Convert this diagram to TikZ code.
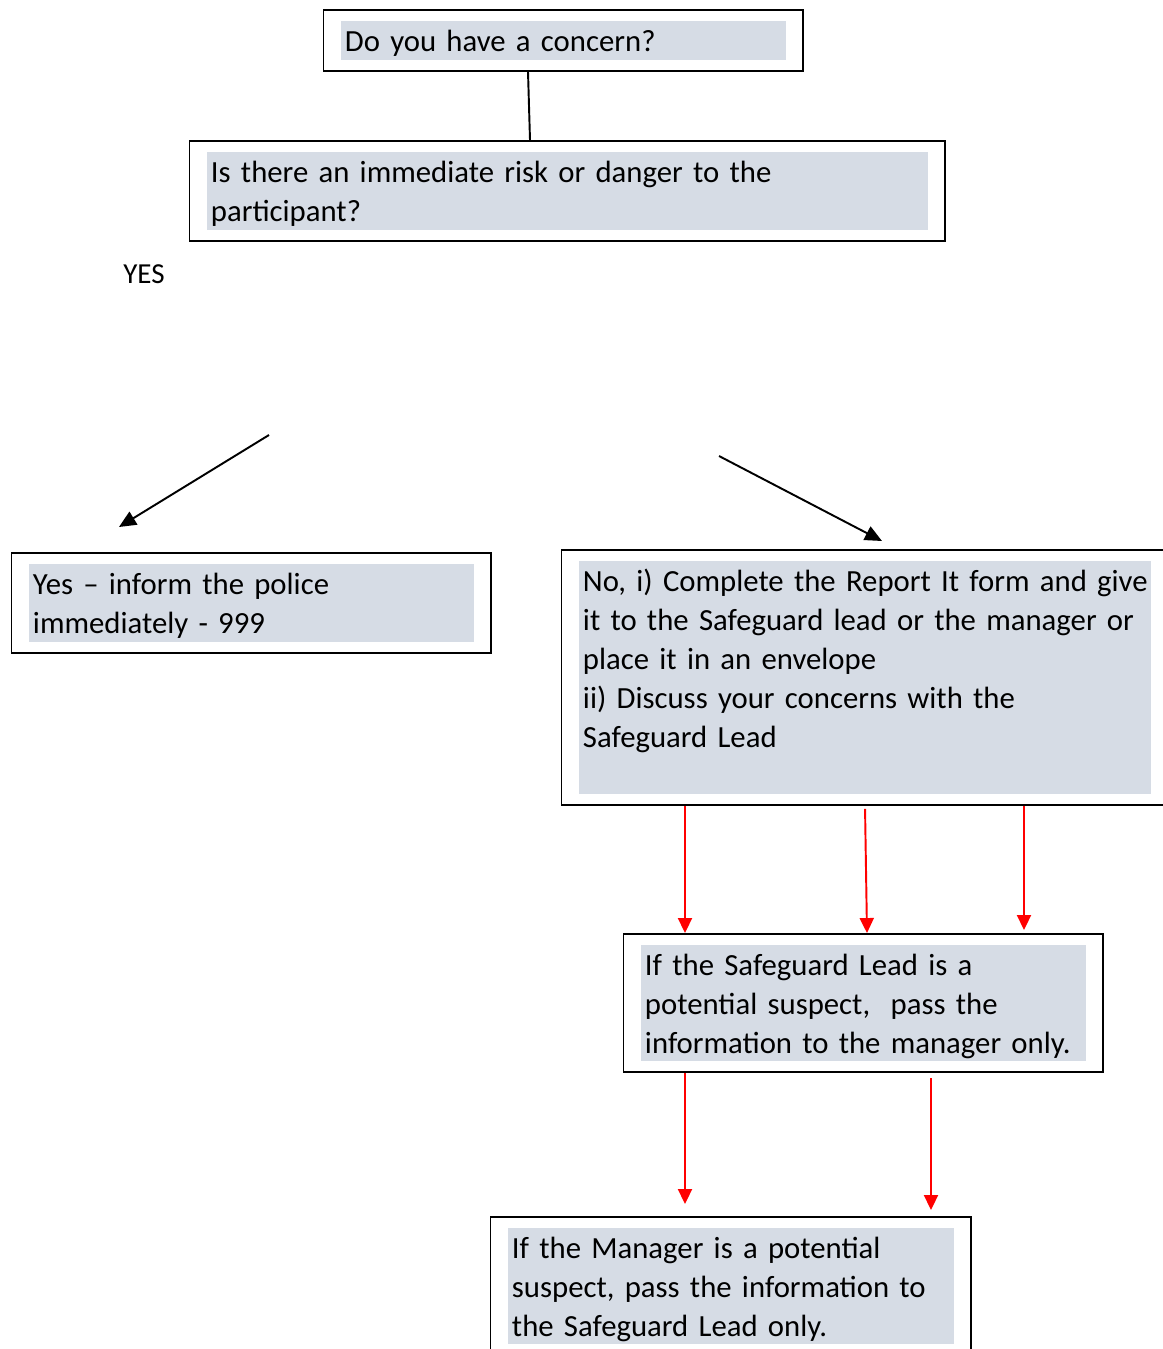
\documentclass[tikz,border=0pt]{standalone}
\usepackage{fontspec}
\setmainfont{Carlito}
\usepackage{tikz}
\usetikzlibrary{arrows.meta,fit}
\definecolor{shade}{RGB}{214,220,229}
\newcommand{\linestrut}{\rule[-4.5pt]{0pt}{22.1pt}}

\begin{document}
\begin{tikzpicture}[x=0.02cm,y=-0.02cm,line width=1.1pt,
  >={Triangle[length=0.34cm,width=0.3cm]},
  text node/.style={fill=shade,anchor=north west,align=left,inner xsep=0.08cm,
    inner ysep=0pt,font=\fontsize{17.5}{22.1}\selectfont},
  frame node/.style={draw,inner xsep=0.33cm,inner ysep=0.2cm},
  red arrow/.style={->,red,>={Triangle[length=0.3cm,width=0.28cm]}}]

  \useasboundingbox (0,0) rectangle (1163,1349);

  \node[text node,text width=8.74cm] (t1) at (340,20)
    {\linestrut Do you have a concern?\linestrut};
  \node[frame node,fit=(t1)] (b1) {};

  \node[text node,text width=14.26cm] (t2) at (206,151)
    {\linestrut Is there an immediate risk or danger to the\\ participant?\linestrut};
  \node[frame node,fit=(t2)] (b2) {};

  \node[font=\fontsize{16.5}{20}\selectfont,inner sep=0pt] (yes) at (144,274) {YES};

  \node[text node,text width=8.74cm] (t3) at (28,563)
    {\linestrut Yes – inform the police\\ immediately - 999\linestrut};
  \node[frame node,fit=(t3)] (b3) {};

  \node[text node,text width=11.28cm] (t4) at (578,560)
    {\linestrut\mbox{No, i) Complete the Report It form and give}\\ it to the Safeguard lead or the manager or\\
     place it in an envelope\\ ii) Discuss your concerns with the\\ Safeguard Lead\\ \linestrut};
  \node[frame node,fit=(t4)] (b4) {};

  \node[text node,text width=8.74cm] (t5) at (640,944)
    {\linestrut If the Safeguard Lead is a\\ potential suspect,\ \ pass the\\ information to the manager only.\linestrut};
  \node[frame node,fit=(t5)] (b5) {};

  \node[text node,text width=8.76cm] (t6) at (507,1227)
    {\linestrut If the Manager is a potential\\ suspect, pass the information to\\ the Safeguard Lead only.\linestrut};
  \node[frame node,fit=(t6)] (b6) {};

  \coordinate (yes from) at (269,435);
  \coordinate (yes to) at (119,527);
  \coordinate (no from) at (719,456);
  \coordinate (no to) at (882,541);

  \draw (b1.south -| 528,0) -- (b2.north -| 530,0);
  \draw[->] (yes from) -- (yes to);
  \draw[->] (no from) -- (no to);

  \draw[red arrow] (b4.south -| 685,0) -- (b5.north -| 685,0);
  \draw[red arrow,shorten <=0.06cm] (b4.south -| 865,0) -- (b5.north -| 867,0);
  \draw[red arrow,shorten >=0.06cm] (b4.south -| 1024,0) -- (b5.north -| 1024,0);
  \draw[red arrow,shorten >=0.24cm] (b5.south -| 685,0) -- (b6.north -| 685,0);
  \draw[red arrow,shorten <=0.1cm,shorten >=0.12cm] (b5.south -| 931,0) -- (b6.north -| 931,0);
\end{tikzpicture}
\end{document}
